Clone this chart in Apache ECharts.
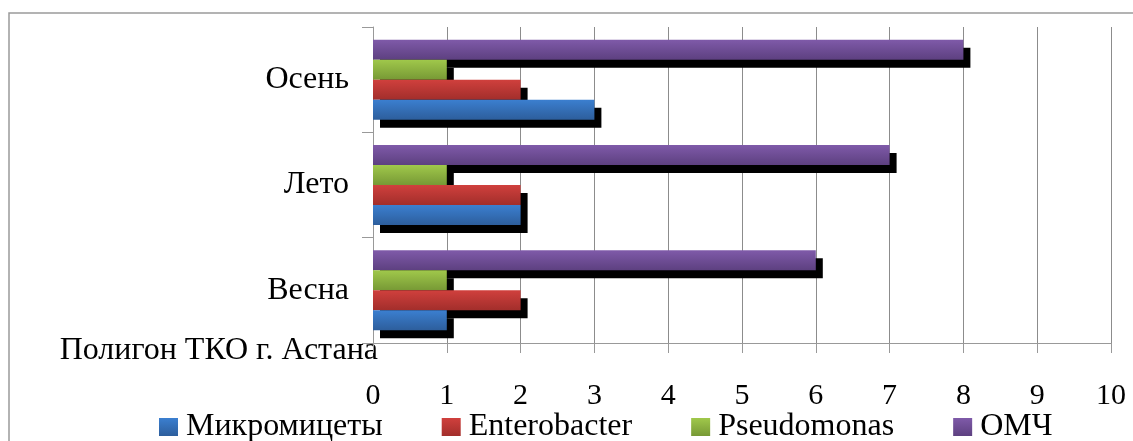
<!DOCTYPE html>
<html>
<head>
<meta charset="utf-8">
<script src="https://cdn.jsdelivr.net/npm/echarts@6/dist/echarts.min.js"></script>
<style>
  html, body { margin: 0; padding: 0; background: #fff; }
  #myChart { width: 1133px; height: 441px; }
</style>
</head>
<body>
<div id="myChart"></div>
<script>
// данные
var seasons = ['Весна', 'Лето', 'Осень']
var groupLabel = 'Полигон ТКО г. Астана'
var seriesNames = ['Микромицеты', 'Enterobacter', 'Pseudomonas', 'ОМЧ']
var mikromicety = [1, 2, 3]
var enterobacter = [2, 2, 2]
var pseudomonas = [1, 1, 1]
var omch = [6, 7, 8]
var xTicks = [0, 1, 2, 3, 4, 5, 6, 7, 8, 9, 10]

var font = '"Liberation Serif", "Times New Roman", serif'

function grad (top, bottom) {
  return new echarts.graphic.LinearGradient(0, 0, 0, 1, [
    { offset: 0, color: top },
    { offset: 1, color: bottom }
  ])
}

function bar (name, data, top, bottom, z) {
  return {
    name: name,
    type: 'bar',
    data: data,
    barWidth: 20,
    barGap: '0%',
    z: z,
    itemStyle: {
      color: grad(top, bottom),
      shadowColor: '#000',
      shadowBlur: 0,
      shadowOffsetX: 7,
      shadowOffsetY: 8
    }
  }
}

var myChart = echarts.init(document.getElementById('myChart'))
myChart.setOption({
  animation: false,
  grid: {
    left: 373,
    right: 22,
    top: 27,
    bottom: 98
  },
  xAxis: {
    type: 'value',
    min: xTicks[0],
    max: xTicks[xTicks.length - 1],
    interval: 1,
    axisLine: { show: true, lineStyle: { color: '#999', width: 1 } },
    axisTick: { show: true, length: 10, lineStyle: { color: '#999' } },
    splitLine: { show: true, lineStyle: { color: '#8c8c8c', width: 1 } },
    axisLabel: {
      color: '#000',
      fontFamily: font,
      fontSize: 30,
      margin: 38
    }
  },
  yAxis: {
    type: 'category',
    data: seasons,
    axisLine: { show: true, lineStyle: { color: '#999', width: 1 } },
    axisTick: { show: true, length: 11, lineStyle: { color: '#999' } },
    axisLabel: {
      color: '#000',
      fontFamily: font,
      fontSize: 32,
      margin: 24
    }
  },
  legend: {
    data: seriesNames,
    left: 159,
    top: 411,
    padding: 0,
    icon: 'rect',
    itemWidth: 19,
    itemHeight: 18,
    itemGap: 59,
    textStyle: {
      color: '#000',
      fontFamily: font,
      fontSize: 32,
      padding: [0, 0, 0, 3]
    }
  },
  graphic: [
    {
      type: 'rect',
      shape: { x: 9, y: 13, width: 1200, height: 500 },
      style: { fill: 'none', stroke: '#9a9a9a', lineWidth: 1.5 },
      silent: true
    },
    {
      type: 'text',
      right: 1133 - 378,
      top: 335,
      style: {
        text: groupLabel,
        fill: '#000',
        font: '32px ' + font
      }
    }
  ],
  // порядок серий обратный: первая серия рисуется сверху
  series: [
    bar(seriesNames[3], omch, '#7f5aa9', '#5d4080', 2),
    bar(seriesNames[2], pseudomonas, '#a0c84b', '#779935', 3),
    bar(seriesNames[1], enterobacter, '#d0403d', '#a22e2b', 4),
    bar(seriesNames[0], mikromicety, '#3b7fd0', '#2d5e9c', 5)
  ]
})
</script>
</body>
</html>
